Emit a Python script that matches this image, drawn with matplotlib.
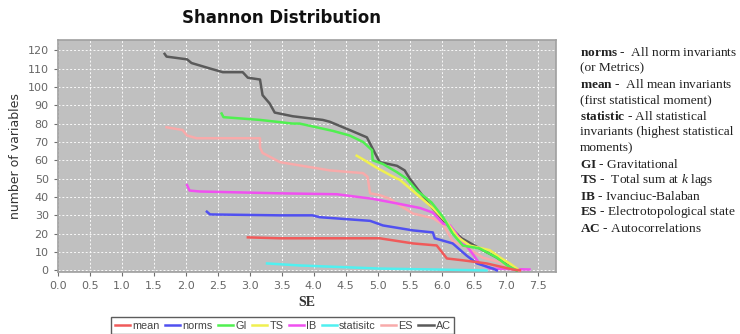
import matplotlib
matplotlib.use("Agg")
import matplotlib.pyplot as plt

# series (x = SE, y = number of variables)
mean_x = [2.97, 3.47, 5.03, 5.55, 5.92, 6.08, 6.33, 6.70, 7.11, 7.22]
mean_y = [18, 17.5, 17.5, 14.7, 13.6, 6.5, 5.5, 3.8, 0.5, 0]

norms_x = [2.33, 2.38, 3.47, 3.98, 4.09, 4.88, 5.08, 5.55, 5.86, 5.89, 6.17, 6.39, 6.55, 6.80, 6.86]
norms_y = [32, 30.5, 30, 30, 29, 27, 24.5, 21.8, 20.7, 17.5, 14.7, 8, 3.8, 1, 0]

gi_x = [2.56, 2.59, 3.16, 3.67, 3.78, 4.30, 4.56, 4.77, 4.91, 4.92, 5.08, 5.30, 5.45,
        5.61, 5.84, 6.02, 6.17, 6.33, 6.59, 6.86, 7.02, 7.17]
gi_y = [85.5, 83.5, 82, 80, 80, 76, 73.5, 70, 65.5, 60, 58, 53.5, 50,
        43.5, 37, 29, 20, 13.5, 12, 7, 2.7, 0]

ts_x = [4.67, 4.77, 4.98, 5.19, 5.30, 5.34, 5.66, 5.86, 6.08, 6.25, 6.44, 6.75, 6.91, 7.06, 7.19]
ts_y = [62.5, 60.5, 56, 52, 50, 49.5, 40, 34, 26, 18, 13.5, 11, 7, 3.8, 0.5]

ib_x = [2.02, 2.06, 2.22, 3.47, 4.36, 4.92, 5.30, 5.66, 5.86, 6.02, 6.13, 6.28, 6.44, 6.59, 6.75, 7.37]
ib_y = [46.5, 43.5, 43, 42, 41.5, 39, 36.5, 34, 31.5, 25.5, 24.5, 17.5, 11, 3.8, 1, 0.5]

stat_x = [3.27, 3.78, 5.03, 6.70]
stat_y = [3.8, 2.7, 1, 0]

es_x = [1.70, 1.95, 2.02, 2.17, 3.16, 3.16, 3.20, 3.31, 3.47, 3.73, 4.25, 4.77, 4.84, 4.88,
        5.03, 5.19, 5.34, 5.55, 5.86, 6.02, 6.17, 6.39, 6.64, 6.91, 7.11, 7.22]
es_y = [78, 76.5, 73.5, 72, 72, 67, 64, 62, 59, 57.5, 54.5, 53, 51, 42,
        41, 39, 35.5, 31, 28.5, 25, 16, 12.5, 7, 4.4, 1, 0]

ac_x = [1.67, 1.70, 2.02, 2.09, 2.38, 2.58, 2.89, 2.97, 3.16, 3.20, 3.31, 3.39, 3.67, 4.14,
        4.25, 4.56, 4.83, 4.91, 5.03, 5.30, 5.42, 5.50, 5.78, 6.05, 6.31, 6.59, 6.86, 7.06, 7.17]
ac_y = [118, 116.5, 115, 113, 110, 108, 108, 105, 104, 95.5, 91, 86, 84, 82,
        81, 76.5, 72.5, 67, 59, 57, 54.5, 50, 37, 26, 17.5, 12, 7, 2, 0]

labels = ["mean", "norms", "GI", "TS", "IB", "statisitc", "ES", "AC"]
colors = ["#f05a5a", "#5050f0", "#50f050", "#f0f050", "#f050f0", "#50f0f0", "#f8aaaa", "#5a5a5a"]
xs = [mean_x, norms_x, gi_x, ts_x, ib_x, stat_x, es_x, ac_x]
ys = [mean_y, norms_y, gi_y, ts_y, ib_y, stat_y, es_y, ac_y]

xticks = [0.0, 0.5, 1.0, 1.5, 2.0, 2.5, 3.0, 3.5, 4.0, 4.5, 5.0, 5.5, 6.0, 6.5, 7.0, 7.5]
yticks = list(range(0, 121, 10))

notes = [
    r"$\mathbf{norms}$ -  All norm invariants",
    "(or Metrics)",
    r"$\mathbf{mean}$ -  All mean invariants",
    "(first statistical moment)",
    r"$\mathbf{statistic}$ - All statistical",
    "invariants (highest statistical",
    "moments)",
    r"$\mathbf{GI}$ - Gravitational",
    r"$\mathbf{TS}$ -  Total sum at $k$ lags",
    r"$\mathbf{IB}$ - Ivanciuc-Balaban",
    r"$\mathbf{ES}$ - Electrotopological state",
    r"$\mathbf{AC}$ - Autocorrelations",
]

plt.rcParams["mathtext.fontset"] = "custom"
plt.rcParams["mathtext.rm"] = "Liberation Serif"
plt.rcParams["mathtext.it"] = "Liberation Serif:italic"
plt.rcParams["mathtext.bf"] = "Liberation Serif:bold"

fig = plt.figure(figsize=(7.4, 3.34), dpi=100)
ax = fig.add_axes([0.078, 0.186, 0.673, 0.694])
ax.set_facecolor("#c0c0c0")

handles = []
n = len(labels)
for i in range(n):
    h, = ax.plot(xs[i], ys[i], color=colors[i], lw=1.8, label=labels[i], zorder=10 + n - i)
    handles.append(h)

ax.set_xlim(0, 7.78)
ax.set_ylim(-0.8, 125.5)
ax.set_xticks(xticks)
ax.set_xticklabels(["{:.1f}".format(v) for v in xticks])
ax.set_yticks(yticks)
ax.grid(True, color="white", lw=0.7, ls=(0, (2, 2)), alpha=0.9)
ax.set_axisbelow(True)
ax.tick_params(colors="#707070", labelsize=8, length=3, width=0.8, labelcolor="#666666")
for s in ax.spines.values():
    s.set_color("#a0a0a0")
    s.set_linewidth(1.2)

ax.set_ylabel("number of variables", fontsize=9, color="#333333", labelpad=4)
ax.set_xlabel("SE", family="Liberation Serif", fontweight="bold", fontsize=10,
              color="#333333", labelpad=4)

fig.text(0.38, 0.945, "Shannon Distribution", ha="center", va="center",
         fontsize=12, fontweight="bold", color="#111111")

leg = fig.legend(handles=handles, loc="upper center", bbox_to_anchor=(0.382, 0.066),
                 ncol=8, frameon=True, fancybox=False, handlelength=1.4,
                 handletextpad=0.2, columnspacing=0.5, borderpad=0.3,
                 prop={"family": "Liberation Sans", "size": 7.8})
leg.get_frame().set_edgecolor("#333333")
leg.get_frame().set_linewidth(1.0)
for t in leg.get_texts():
    t.set_color("#444444")

y0 = 1 - 52 / 334
dy = 16 / 334
for i, line in enumerate(notes):
    fig.text(580 / 740, y0 - i * dy, line, ha="left", va="center",
             family="Liberation Serif", fontsize=9.6, color="#222222")

fig.savefig("out.png", dpi=100)
